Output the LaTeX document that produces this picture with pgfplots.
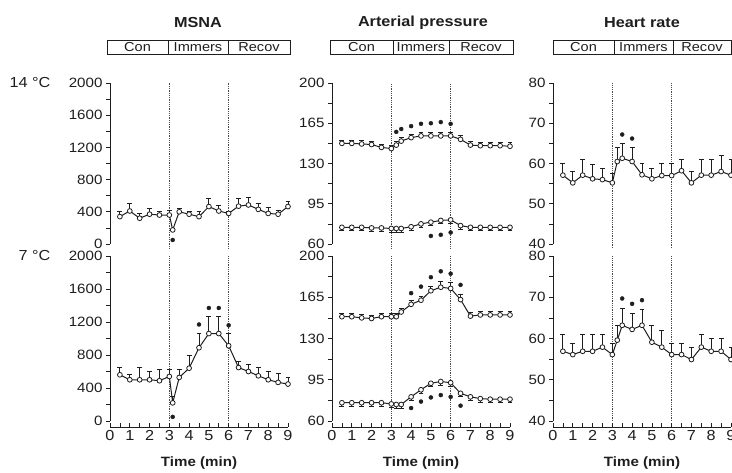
\documentclass[border=0pt]{standalone}
\usepackage{fontspec}
\setmainfont{Liberation Sans}[FakeStretch=1.12]
\usepackage{pgfplots}
\usepackage{pgfplotstable}
\pgfplotsset{compat=1.18}
\definecolor{ink}{RGB}{30,30,30}

% MSNA, 14 C and 7 C: x, mean, SE
\pgfplotstableread{
x y e
0.5 340 60
1 410 95
1.5 320 60
2 370 75
2.5 360 50
3 360 60
3.17 175 0
3.5 400 45
4 370 40
4.5 340 60
5 465 100
5.5 410 75
6 380 30
6.5 470 95
7 485 100
7.5 430 75
8 380 80
8.5 370 50
9 465 70
}\msnaA
\pgfplotstableread{
x y e
0.5 560 92
1 500 60
1.5 500 152
2 500 100
2.5 488 132
3 540 80
3.17 220 80
3.5 528 92
4 640 160
4.5 888 172
5 1060 208
5.5 1060 208
6 912 148
6.5 648 80
7 600 80
7.5 548 104
8 500 100
8.5 468 104
9 448 80
}\msnaB
% arterial pressure: systolic (s) and diastolic (d)
\pgfplotstableread{
x y e
0.5 147.5 3
1 147.5 3
1.5 147 3
2 146.5 3
2.5 144 3
3 143 3
3.25 146 3
3.5 149.5 3
4 152.5 3
4.5 154 3
5 154 3
5.5 154 3
6 154 3
6.5 151 3
7 146 3
7.5 145.5 3
8 145.5 3
8.5 145.5 3
9 145 3
}\apsA
\pgfplotstableread{
x y e
0.5 74.5 3
1 74.5 3
1.5 74.5 3
2 74 3
2.5 74 3
3 73.5 3
3.25 73.5 3
3.5 73.5 3
4 75 3
4.5 77.5 3
5 79 3
5.5 80.5 3
6 81 3
6.5 76 3
7 74.5 3
7.5 74.5 3
8 74.5 3
8.5 74.5 3
9 74.5 3
}\apdA
\pgfplotstableread{
x y e
0.5 148.5 3
1 148.5 3
1.5 147.5 3
2 147 3
2.5 148.5 3
3 148.5 3
3.25 148.5 3
3.5 152.5 3
4 159 3
4.5 162.5 3
5 170.5 4
5.5 173.5 5
6 172.5 5
6.5 163 4
7 149 3
7.5 150 3
8 150 3
8.5 150 3
9 150 3
}\apsB
\pgfplotstableread{
x y e
0.5 75.5 3
1 75.5 3
1.5 75.5 3
2 75.5 3
2.5 75.5 3
3 74.5 3
3.25 74 3
3.5 74 3
4 80.5 3
4.5 86.5 3
5 92 3
5.5 93.5 3
6 92.5 3
6.5 83.5 3
7 80.5 3
7.5 79 3
8 78.5 3
8.5 78.5 3
9 78.5 3
}\apdB
% heart rate
\pgfplotstableread{
x y e
0.5 57.1 3
1 55.2 2.8
1.5 57.1 3.8
2 56.2 3.7
2.5 56 2.9
3 55.2 2.4
3.25 60.5 3.6
3.5 61.3 3.7
4 60.5 3.6
4.5 57.2 2.9
5 56.2 2.7
5.5 57 3
6 57 3
6.5 58.2 2.7
7 55.2 2.8
7.5 57.1 3.8
8 57.1 3.8
8.5 58 4
9 57.1 3.8
}\hrA
\pgfplotstableread{
x y e
0.5 56.9 4.1
1 56.1 2.8
1.5 56.9 4.1
2 56.9 4.1
2.5 57.9 3.1
3 56.1 2.8
3.25 59.6 3.6
3.5 63.2 4.1
4 62.2 3.9
4.5 63.2 3.9
5 59.1 4
5.5 57.9 4.1
6 56.1 2.8
6.5 56.1 2.8
7 54.9 3
7.5 57.9 3.1
8 56.9 3.1
8.5 56.9 3.1
9 54.9 3
}\hrB

\pgfplotsset{
  panel/.style={scale only axis, width=178pt, anchor=south west,
    xmin=0, xmax=9, axis x line=none, axis y line=left,
    y axis line style={-, line width=0.9pt, ink},
    tick align=outside, major tick length=4pt, minor tick length=4pt,
    tick style={ink, line width=0.7pt}, minor y tick num=1, xtick=\empty,
    clip=false,
    tick label style={font=\fontsize{13.5}{13.5}\selectfont, text=ink},
    /pgf/number format/assume math mode=true,
    /pgf/number format/1000 sep={}},
  series/.style={ink, line width=1pt, mark=*, mark size=2.4pt,
    mark options={fill=white, line width=0.8pt},
    error bars/.cd, y dir=#1, y explicit,
    error bar style={line width=0.8pt, ink},
    error mark options={rotate=90, mark size=2.4pt, line width=0.8pt, ink}},
  stars/.style={only marks, mark=*, mark size=2pt, ink},
  vline/.style={ink!80, densely dotted, line width=0.8pt, forget plot},
  timeaxis/.style={scale only axis, width=178pt, height=10pt, anchor=south west,
    xmin=0, xmax=9, ymin=0, ymax=1, axis y line=none, axis x line=bottom,
    x axis line style={-, line width=0.9pt, ink},
    xtick={0,...,9}, minor x tick num=1, tick align=inside,
    major tick length=4pt, minor tick length=4pt,
    tick style={ink, line width=0.7pt},
    tick label style={font=\fontsize{14.5}{14.5}\selectfont, text=ink},
    /pgf/number format/assume math mode=true,
    xlabel={Time (min)},
    xlabel style={font=\bfseries\fontsize{13.5}{13.5}\selectfont, text=ink, yshift=-9pt}},
}

\begin{document}
\begin{tikzpicture}
\useasboundingbox (0,0) rectangle (732pt,472pt);
\clip (0,0) rectangle (732pt,472pt);

% titles and phase boxes
\foreach \t/\cx in {MSNA/198, Arterial pressure/423, Heart rate/642}
  \node[font=\bfseries\fontsize{14.5}{14.5}\selectfont, text=ink] at (\cx pt,449pt) {\t};
\foreach \a/\b/\c/\d in {107/168/228/290, 330/393/449/513, 553/614/673/731}{
  \draw[ink, line width=0.9pt] (\a pt,418pt) rectangle (\d pt,432pt);
  \draw[ink, line width=0.9pt] (\b pt,418pt) -- (\b pt,432pt);
  \draw[ink, line width=0.9pt] (\c pt,418pt) -- (\c pt,432pt);
  \node[font=\fontsize{13}{13}\selectfont, text=ink] at ({(\a+\b)/2 pt},425pt) {Con};
  \node[font=\fontsize{13}{13}\selectfont, text=ink] at ({(\b+\c)/2 pt},425pt) {Immers};
  \node[font=\fontsize{13}{13}\selectfont, text=ink] at ({(\c+\d)/2 pt},425pt) {Recov};
}
\node[anchor=east, font=\fontsize{14.5}{14.5}\selectfont, text=ink] at (54pt,389pt) {14 °C};
\node[anchor=east, font=\fontsize{14.5}{14.5}\selectfont, text=ink] at (54pt,216pt) {7 °C};

% ---- top row (14 C)
\begin{axis}[panel, at={(110pt,228pt)}, height=161pt, ymin=0, ymax=2000, ytick={0,400,...,2000}]
  \addplot[vline] coordinates {(3,-60) (3,2000)};
  \addplot[vline] coordinates {(6,-60) (6,2000)};
  \addplot[series=plus] table[x=x, y=y, y error=e] {\msnaA};
  \addplot[stars] coordinates {(3.17,50)};
\end{axis}
\begin{axis}[panel, at={(332pt,228pt)}, height=161pt, ymin=60, ymax=200, ytick={60,95,130,165,200}]
  \addplot[vline] coordinates {(3,56) (3,200)};
  \addplot[vline] coordinates {(6,56) (6,200)};
  \addplot[series=plus] table[x=x, y=y, y error=e] {\apsA};
  \addplot[series=minus] table[x=x, y=y, y error=e] {\apdA};
  \addplot[stars] coordinates {(3.25,157.5) (3.5,160) (4,162.5) (4.5,164.5) (5,165) (5.5,166) (6,164.5)};
  \addplot[stars] coordinates {(5,67) (5.5,68) (6,70)};
\end{axis}
\begin{axis}[panel, at={(553pt,228pt)}, height=161pt, ymin=40, ymax=80, ytick={40,50,...,80}]
  \addplot[vline] coordinates {(3,39) (3,80)};
  \addplot[vline] coordinates {(6,39) (6,80)};
  \addplot[series=plus] table[x=x, y=y, y error=e] {\hrA};
  \addplot[stars] coordinates {(3.5,67.2) (4,66.2)};
\end{axis}

% ---- bottom row (7 C)
\begin{axis}[panel, at={(110pt,51pt)}, height=165pt, ymin=0, ymax=2000, ytick={0,400,...,2000}]
  \addplot[vline] coordinates {(3,0) (3,2000)};
  \addplot[vline] coordinates {(6,0) (6,2000)};
  \addplot[series=plus] table[x=x, y=y, y error=e] {\msnaB};
  \addplot[stars] coordinates {(3.17,50) (4.5,1170) (5,1370) (5.5,1370) (6,1160)};
\end{axis}
\begin{axis}[panel, at={(332pt,51pt)}, height=165pt, ymin=60, ymax=200, ytick={60,95,130,165,200}]
  \addplot[vline] coordinates {(3,60) (3,200)};
  \addplot[vline] coordinates {(6,60) (6,200)};
  \addplot[series=plus] table[x=x, y=y, y error=e] {\apsB};
  \addplot[series=minus] table[x=x, y=y, y error=e] {\apdB};
  \addplot[stars] coordinates {(4,168.5) (4.5,174) (5,182) (5.5,187) (6,185) (6.5,175.5)};
  \addplot[stars] coordinates {(4,71) (4.5,76.5) (5,80) (5.5,82) (6,80.5) (6.5,73)};
\end{axis}
\begin{axis}[panel, at={(553pt,51pt)}, height=165pt, ymin=40, ymax=80, ytick={40,50,...,80}]
  \addplot[vline] coordinates {(3,40) (3,80)};
  \addplot[vline] coordinates {(6,40) (6,80)};
  \addplot[series=plus] table[x=x, y=y, y error=e] {\hrB};
  \addplot[stars] coordinates {(3.5,69.7) (4,68.4) (4.5,69.3)};
\end{axis}

% time axes
\begin{axis}[timeaxis, at={(110pt,45pt)}]\end{axis}
\begin{axis}[timeaxis, at={(332pt,45pt)}]\end{axis}
\begin{axis}[timeaxis, at={(553pt,45pt)}]\end{axis}
\end{tikzpicture}
\end{document}
